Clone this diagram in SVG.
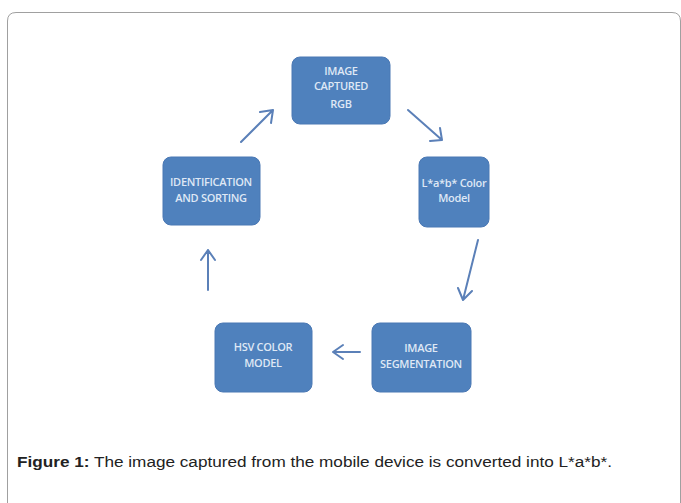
<svg xmlns="http://www.w3.org/2000/svg" width="681" height="503" viewBox="0 0 681 503">
<style>
.box{fill:#4f81bd;stroke:#4a78b4;stroke-width:1}
.lbl{font-family:"Open Sans","DejaVu Sans",sans-serif;font-size:11px;font-weight:600;letter-spacing:-0.3px;fill:#dfe8f5;text-anchor:middle}
.arr{fill:none;stroke:#5b80b8;stroke-width:2;stroke-linecap:round;stroke-linejoin:round}
.cap{font-family:"Liberation Sans",Arial,sans-serif;font-size:15.5px;fill:#222}
</style>
<rect width="681" height="503" fill="#ffffff"/>
<path d="M7.5,503 V21 Q7.5,12.5 16,12.5 H672 Q680.5,12.5 680.5,21 V503" fill="none" stroke="#a0a0a0" stroke-width="1"/>
<g id="n1"><rect class="box" x="292" y="57" width="98" height="67" rx="8"/>
<text class="lbl" x="341" y="75">IMAGE</text><text class="lbl" x="341" y="90">CAPTURED</text><text class="lbl" x="341" y="108">RGB</text></g>
<g id="n2"><rect class="box" x="419" y="157" width="70" height="70" rx="8"/>
<text class="lbl" x="454" y="187">L*a*b* Color</text><text class="lbl" x="454" y="202">Model</text></g>
<g id="n3"><rect class="box" x="372" y="323" width="99" height="69" rx="8"/>
<text class="lbl" x="421" y="352">IMAGE</text><text class="lbl" x="421" y="368">SEGMENTATION</text></g>
<g id="n4"><rect class="box" x="215" y="323" width="97" height="69" rx="8"/>
<text class="lbl" x="263" y="351">HSV COLOR</text><text class="lbl" x="263" y="367">MODEL</text></g>
<g id="n5"><rect class="box" x="163" y="157" width="97" height="68" rx="8"/>
<text class="lbl" x="211" y="186">IDENTIFICATION</text><text class="lbl" x="211" y="202">AND SORTING</text></g>
<g id="connectors">
<path class="arr" d="M241,142 L273,110 M260,112 L273,110 L271,123"/>
<path class="arr" d="M408,110 L442,140 M430,141 L442,140 L440,128"/>
<path class="arr" d="M478,240 L463,300 M458,288 L463,300 L472,291"/>
<path class="arr" d="M360,352 L333,352 M343,345 L333,352 L343,359"/>
<path class="arr" d="M208,290 L208,250 M201,260 L208,250 L215,260"/>
</g>
<text class="cap" x="17" y="467" textLength="595" lengthAdjust="spacingAndGlyphs"><tspan font-weight="bold">Figure 1:</tspan> The image captured from the mobile device is converted into L*a*b*.</text>
</svg>
